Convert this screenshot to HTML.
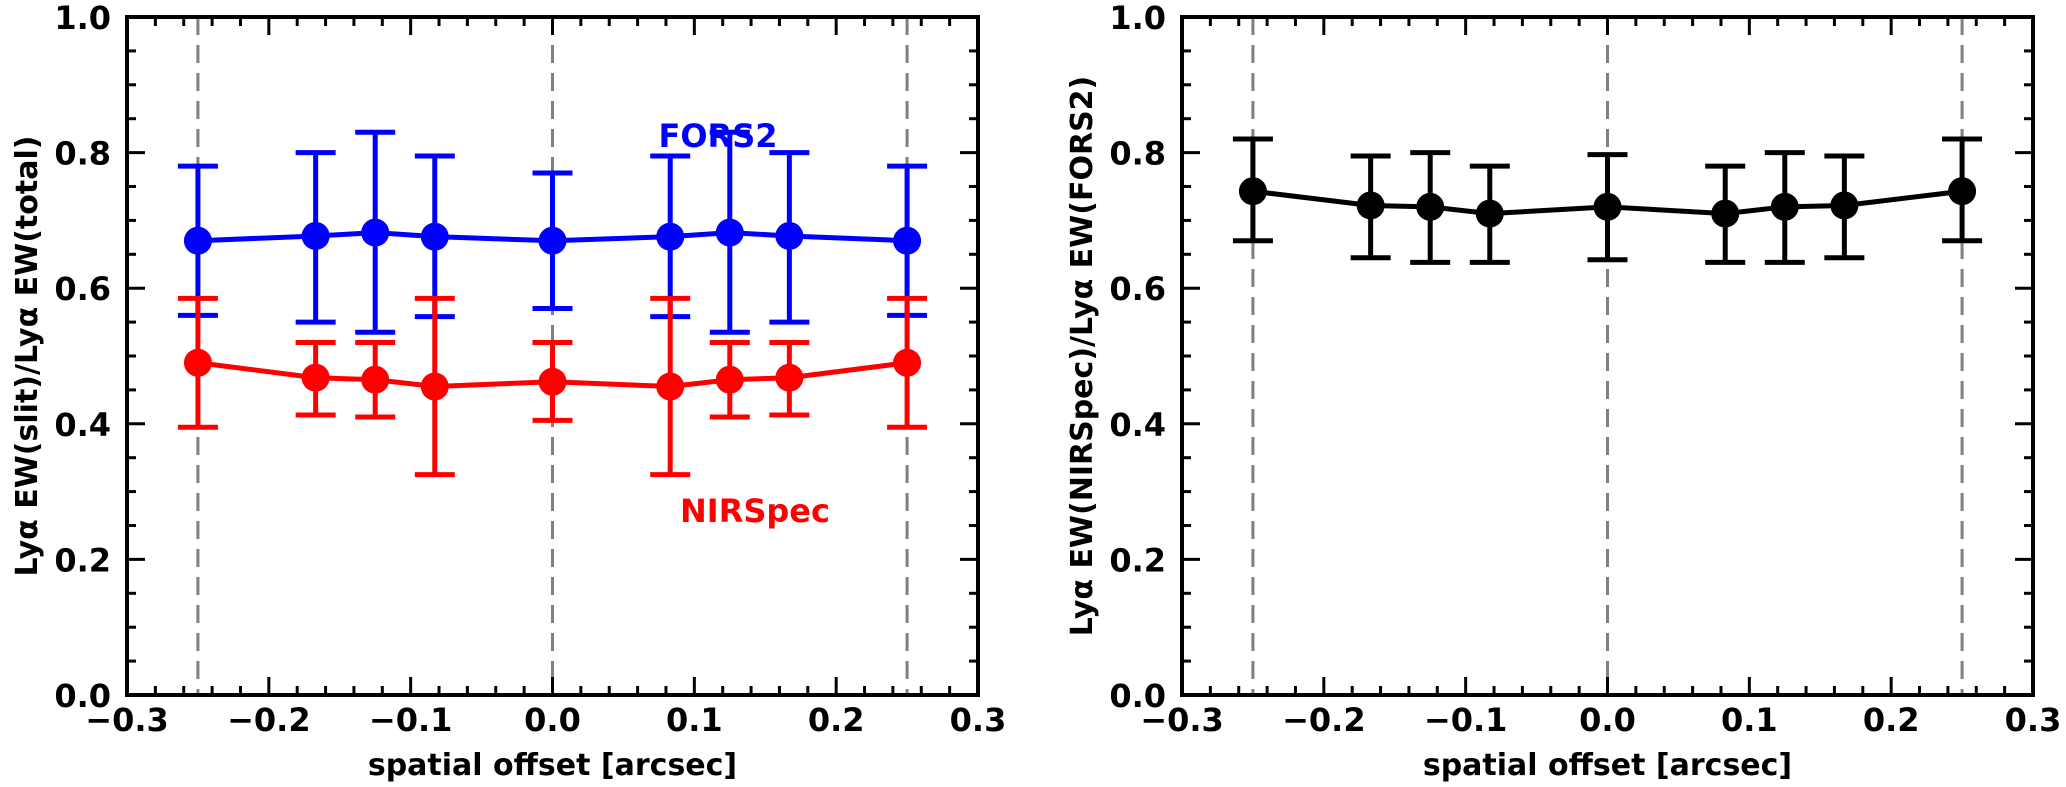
<!DOCTYPE html>
<html><head><meta charset="utf-8"><style>
html,body{margin:0;padding:0;background:#fff;}
svg{display:block;font-family:"DejaVu Sans","Liberation Sans",sans-serif;font-weight:bold;}
</style></head><body>
<svg id="s" width="2066" height="787" viewBox="0 0 2066 787" xmlns="http://www.w3.org/2000/svg"></svg>
<script>
const S=document.getElementById('s');let h='';
const T=695,TOP=17;
function panel(L,R,series,ylabel){
  const X=v=>L+(v+0.3)/0.6*(R-L), Y=v=>T-v*(T-TOP);
  [-0.25,0,0.25].forEach(v=>{h+=`<line x1="${X(v)}" x2="${X(v)}" y1="${TOP}" y2="${T}" stroke="#808080" stroke-width="3" stroke-dasharray="18,10"/>`;});
  series.forEach(s=>{
    const xs=[-0.25,-0.167,-0.125,-0.083,0,0.083,0.125,0.167,0.25];
    h+=`<polyline fill="none" stroke="${s.c}" stroke-width="5" points="${xs.map((x,i)=>X(x)+','+Y(s.v[i])).join(' ')}"/>`;
    xs.forEach((x,i)=>{const cx=X(x);
      h+=`<line x1="${cx}" x2="${cx}" y1="${Y(s.hi[i])}" y2="${Y(s.lo[i])}" stroke="${s.c}" stroke-width="5"/>`;
      [s.hi[i],s.lo[i]].forEach(e=>{h+=`<line x1="${cx-20}" x2="${cx+20}" y1="${Y(e)}" y2="${Y(e)}" stroke="${s.c}" stroke-width="5"/>`;});
      h+=`<circle cx="${cx}" cy="${Y(s.v[i])}" r="14" fill="${s.c}"/>`;});
  });
  for(let k=-15;k<=15;k++){const x=X(k*0.02);const maj=k%5==0;const l=maj?18:9;
    h+=`<line x1="${x}" x2="${x}" y1="${T}" y2="${T-l}" stroke="#000" stroke-width="3"/><line x1="${x}" x2="${x}" y1="${TOP}" y2="${TOP+l}" stroke="#000" stroke-width="3"/>`;
    if(maj){const v=(k*0.02).toFixed(1);const t=v.startsWith('-')?'\u2212'+v.slice(1):v;
      h+=`<text x="${x}" y="${T+36}" font-size="32" text-anchor="middle">${t}</text>`;}}
  for(let k=0;k<=20;k++){const y=Y(k*0.05);const maj=k%4==0;const l=maj?18:9;
    h+=`<line x1="${L}" x2="${L+l}" y1="${y}" y2="${y}" stroke="#000" stroke-width="3"/><line x1="${R}" x2="${R-l}" y1="${y}" y2="${y}" stroke="#000" stroke-width="3"/>`;
    if(maj)h+=`<text x="${L-16}" y="${y+12}" font-size="32" text-anchor="end">${(k*0.05).toFixed(1)}</text>`;}
  h+=`<rect x="${L}" y="${TOP}" width="${R-L}" height="${T-TOP}" fill="none" stroke="#000" stroke-width="4"/>`;
  h+=`<text x="${(L+R)/2}" y="775" font-size="30" text-anchor="middle">spatial offset [arcsec]</text>`;
  h+=`<text transform="translate(${L-90},356) rotate(-90)" font-size="30" text-anchor="middle">${ylabel}</text>`;
}
const sym=a=>a.concat(a.slice(0,4).reverse());
panel(127,978,[
 {c:'#0000ff',v:sym([0.670,0.677,0.682,0.676,0.670]),hi:sym([0.78,0.80,0.83,0.795,0.77]),lo:sym([0.56,0.55,0.535,0.558,0.57])},
 {c:'#ff0000',v:sym([0.49,0.468,0.465,0.455,0.462]),hi:sym([0.585,0.52,0.52,0.585,0.52]),lo:sym([0.395,0.413,0.41,0.325,0.405])}
],'Ly\u03b1 EW(slit)/Ly\u03b1 EW(total)');
h+=`<text x="718" y="147" font-size="32" fill="#0000ff" text-anchor="middle">FORS2</text>`;
h+=`<text x="755" y="522" font-size="32" fill="#ff0000" text-anchor="middle">NIRSpec</text>`;
panel(1182,2033,[
 {c:'#000',v:sym([0.743,0.722,0.72,0.71,0.72]),hi:sym([0.82,0.795,0.80,0.78,0.797]),lo:sym([0.67,0.645,0.638,0.638,0.642])}
],'Ly\u03b1 EW(NIRSpec)/Ly\u03b1 EW(FORS2)');
S.innerHTML=h;
</script>
</body></html>
